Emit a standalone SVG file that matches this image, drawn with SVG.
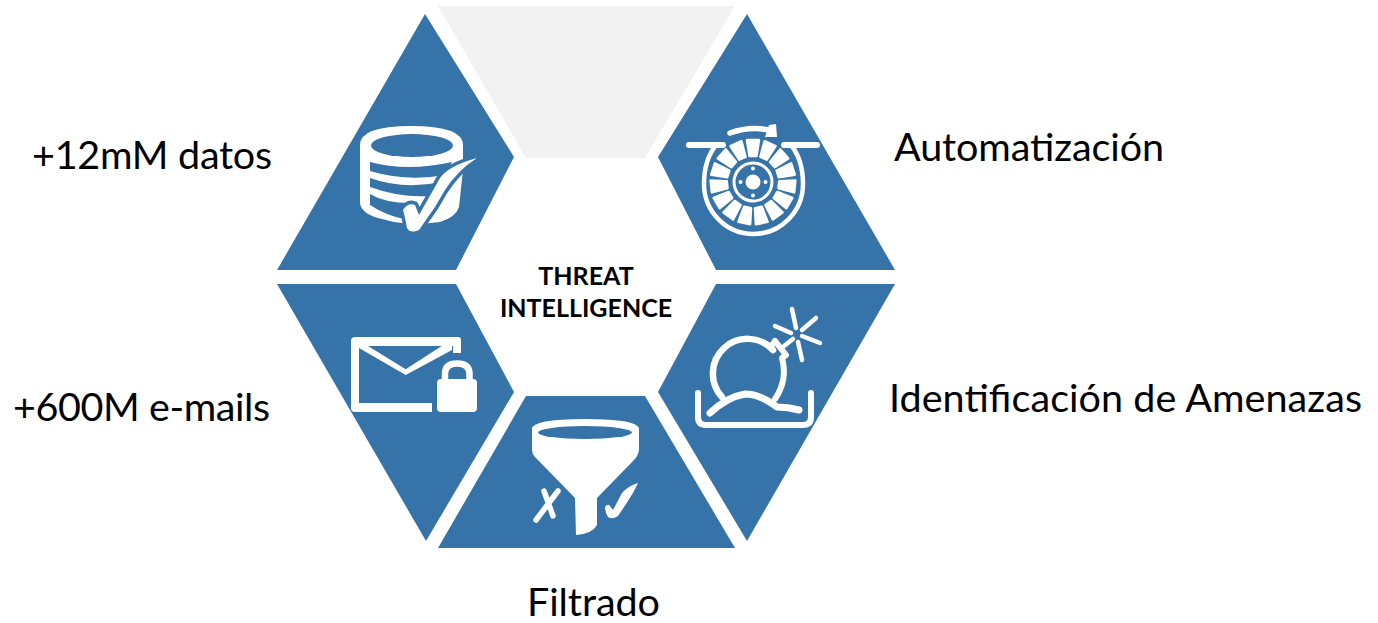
<svg xmlns="http://www.w3.org/2000/svg" width="1378" height="623" viewBox="0 0 1378 623">
<defs>
<polygon id="blade" points="749.500,156 756.500,156 759,140 747,140" fill="#fff" stroke="#fff" stroke-width="2.500" stroke-linejoin="round"/>
<path id="tick" d="M403,210Q408,202 415,205L419,215L440,178Q448,166 477,158Q458,170 445,190L435,207L419,230Q410,234 407,228Q405,217 403,210Z"/>
</defs>
<style>
.seg{fill:#3673a8}
.lbl{font-family:"Lato","Liberation Sans",sans-serif;font-size:39.500px;fill:#000}
.ctr{font-family:"Lato","Liberation Sans",sans-serif;font-size:25px;font-weight:700;fill:#000;text-anchor:middle}
.w{fill:#fff}
.b{fill:#3673a8}
.s{fill:none;stroke:#fff;stroke-linecap:round;stroke-linejoin:round}
</style>
<rect width="1378" height="623" fill="#fff"/>
<g id="node-top"><polygon points="438,6 735,6 645,158 526,158" fill="#f2f2f2"/></g>
<g id="node-datos">
<polygon class="seg" points="425,14 514,157 456,270 277,270"/>
<path class="w" d="M360,145Q360,126 411,126Q463,126 463,145V170L459,207Q456,217 440,222L412,225L402,223Q392,222 382,219Q361,214 360,203Z"/>
<ellipse cx="412" cy="145.500" rx="41" ry="11.500" class="b"/>
<path class="b" d="M370,162Q407,172 452,162L445,175Q407,182 370,171Z"/>
<path class="b" d="M370,178Q403,190 442,182L430,196Q400,198 370,187Z"/>
<path class="b" d="M370,194Q385,203 410,203L404,219Q385,215 370,205Z"/>
<use href="#tick" fill="#3673a8" stroke="#3673a8" stroke-width="7" stroke-linejoin="round"/>
<use href="#tick" fill="#fff"/>
</g>
<g id="node-automatizacion">
<polygon class="seg" points="747,14 895,270 716,270 658,157"/>
<path class="s" stroke-width="4.500" stroke-linecap="butt" d="M716,145Q704,160 704,184A49.500,50 0 0 0 803,184Q803,160 791,145"/>
<path class="s" stroke-width="6" stroke-linecap="butt" d="M689,145H723M784,145H817"/>
<path class="s" stroke-width="5.500" stroke-linecap="butt" d="M730,133Q750,126 769,130"/>
<path class="w" d="M769,125L776,124L777,137L765,137L767,131Z"/>
<use href="#blade"/>
<use href="#blade" transform="rotate(24 753 182)"/>
<use href="#blade" transform="rotate(48 753 182)"/>
<use href="#blade" transform="rotate(72 753 182)"/>
<use href="#blade" transform="rotate(96 753 182)"/>
<use href="#blade" transform="rotate(120 753 182)"/>
<use href="#blade" transform="rotate(144 753 182)"/>
<use href="#blade" transform="rotate(168 753 182)"/>
<use href="#blade" transform="rotate(192 753 182)"/>
<use href="#blade" transform="rotate(216 753 182)"/>
<use href="#blade" transform="rotate(240 753 182)"/>
<use href="#blade" transform="rotate(264 753 182)"/>
<use href="#blade" transform="rotate(288 753 182)"/>
<use href="#blade" transform="rotate(312 753 182)"/>
<use href="#blade" transform="rotate(336 753 182)"/>
<circle cx="753" cy="182" r="19" fill="none" stroke="#fff" stroke-width="3"/>
<circle cx="753" cy="182" r="7.500" class="w"/>
<circle cx="753" cy="168.500" r="2" class="w"/><circle cx="740.500" cy="182" r="2" class="w"/><circle cx="765.500" cy="182" r="2" class="w"/><circle cx="753" cy="195.500" r="2" class="w"/>
</g>
<g id="node-amenazas">
<polygon class="seg" points="716,284 895,284 747,541 658,392"/>
<path class="s" stroke-width="6.500" d="M722,397A32,32 0 0 1 773,350"/>
<path class="s" stroke-width="6" d="M772,345L775,341L786,355L782,358Q788,380 775,399"/>
<path class="s" stroke-width="4.500" d="M784,346L793,339M792,309L796,328M816,318L802,330M775,326L791,333M802,336L820,343M798,342L802,360"/>
<path class="s" stroke-width="6" d="M698,393V417Q698,425 706,425H803Q811,425 811,417V393"/>
<path class="s" stroke-width="7" d="M710,413Q727,397 745,394Q760,394 777,407Q788,407 799,410"/>
</g>
<g id="node-emails">
<polygon class="seg" points="277,284 456,284 514,392 426,541"/>
<path class="w" d="M351,341Q351,337 355,337H458Q461,337 461,340V353H453V346H359V403H432V412H355Q351,412 351,408Z"/>
<polygon class="w" points="359,346 368,346 405.700,369.300 441.700,346 452,346 452,350 405.700,375 359,348"/>
<rect x="437" y="379" width="40" height="33" rx="4" class="w"/>
<path class="s" stroke-width="6.500" stroke-linecap="butt" d="M445,381V374Q445,363.500 457,363.500Q469.500,363.500 469.500,374V381"/>
</g>
<g id="node-filtrado">
<polygon class="seg" points="526,396 645,396 735,548 438,548"/>
<path class="w" d="M532,429Q532,419 585,419Q639,419 639,429V450Q638,456 634,460L597,498V525Q592,534 576,535L575,498L535,457Q532,454 532,450Z"/>
<ellipse cx="585" cy="432.500" rx="47" ry="6.500" class="b"/>
<path class="s" stroke-width="5.500" d="M544,491L553,516M558,491L536,520"/>
<path class="w" d="M605,507Q608,503 610,506L613,510L622,493Q628,486 638,483Q634,492 628,501L618,516Q612,520 608,517Q605,512 605,507Z"/>
</g>
<g id="labels">
<text class="ctr" x="586" y="285">THREAT</text>
<text class="ctr" x="586" y="317">INTELLIGENCE</text>
<text class="lbl" x="32" y="169" textLength="240">+12mM datos</text>
<text class="lbl" x="894" y="161" textLength="270">Automatización</text>
<text class="lbl" x="889" y="412" textLength="473">Identificación de Amenazas</text>
<text class="lbl" x="13" y="421" textLength="257">+600M e-mails</text>
<text class="lbl" x="527" y="616" textLength="133">Filtrado</text>
</g>
</svg>
